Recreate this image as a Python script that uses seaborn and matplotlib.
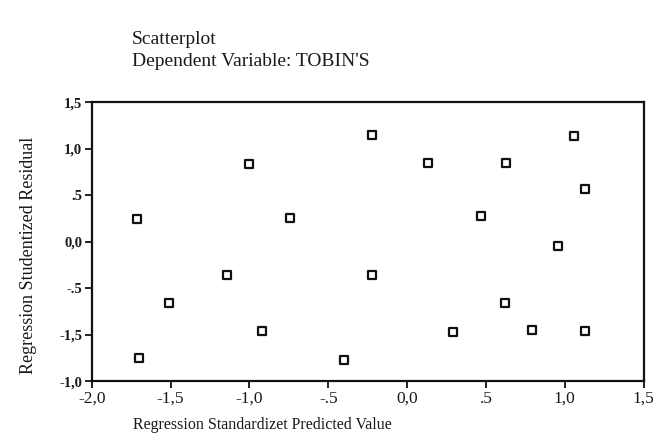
import matplotlib
matplotlib.use("Agg")
import matplotlib.pyplot as plt
import seaborn as sns
import pandas as pd

# Data (predicted value, studentized residual in tick units)
predicted = [-1.71, -1.00, -0.74, -0.22, 0.13, 0.63, 1.06, 1.13, 0.47,
             -1.14, -1.51, -0.92, -1.70, 0.96, -0.22, 0.62, 0.29, 0.79, 1.13, -0.40]
residual = [0.24, 0.83, 0.25, 1.15, 0.84, 0.84, 1.14, 0.56, 0.28,
            -0.36, -0.66, -0.96, -1.25, -0.05, -0.36, -0.66, -0.97, -0.95, -0.96, -1.27]

x_ticks = [-2.0, -1.5, -1.0, -0.5, 0.0, 0.5, 1.0, 1.5]
x_tick_labels = ["-2,0", "-1,5", "-1,0", "-.5", "0,0", ".5", "1,0", "1,5"]
y_ticks = [-1.5, -1.0, -0.5, 0.0, 0.5, 1.0, 1.5]
y_tick_labels = ["-1,0", "-1,5", "-.5", "0,0", ".5", "1,0", "1,5"]

title_lines = ["Scatterplot", "Dependent Variable: TOBIN'S"]
x_label = "Regression Standardizet Predicted Value"
y_label = "Regression Studentized Residual"

df = pd.DataFrame({"pred": predicted, "resid": residual})

sns.set_theme(style="white")
plt.rcParams["font.family"] = ["Liberation Serif", "DejaVu Serif"]

fig = plt.figure(figsize=(6.6, 4.36), dpi=100)
ax = fig.add_axes([0.139, 0.126, 0.836, 0.640])

sns.scatterplot(data=df, x="pred", y="resid", ax=ax, marker="s", s=28,
                facecolor="white", edgecolor="#111111", linewidth=1.6)

ax.set_xlim(-2.0, 1.5)
ax.set_ylim(-1.5, 1.5)
ax.set_xticks(x_ticks)
ax.set_xticklabels(x_tick_labels, fontsize=12.5, color="#1a1a1a")
ax.set_yticks(y_ticks)
ax.set_yticklabels(y_tick_labels, fontsize=10.5, fontweight="bold", color="#1a1a1a")
ax.tick_params(axis="both", direction="out", length=5, width=1.3, color="#111111",
               bottom=True, left=True, pad=2)

for sp in ax.spines.values():
    sp.set_visible(True)
    sp.set_color("#111111")
    sp.set_linewidth(1.6)

ax.set_xlabel(x_label, fontsize=11.5, color="#1a1a1a")
ax.xaxis.set_label_coords(0.31, -0.13)
ax.set_ylabel(y_label, fontsize=13, color="#1a1a1a")
ax.yaxis.set_label_coords(-0.1, 0.45)

fig.text(0.200, 0.910, title_lines[0], fontsize=14, color="#1a1a1a", ha="left", va="center")
fig.text(0.200, 0.858, title_lines[1], fontsize=14, color="#1a1a1a", ha="left", va="center")

fig.savefig("out.png", dpi=100)
